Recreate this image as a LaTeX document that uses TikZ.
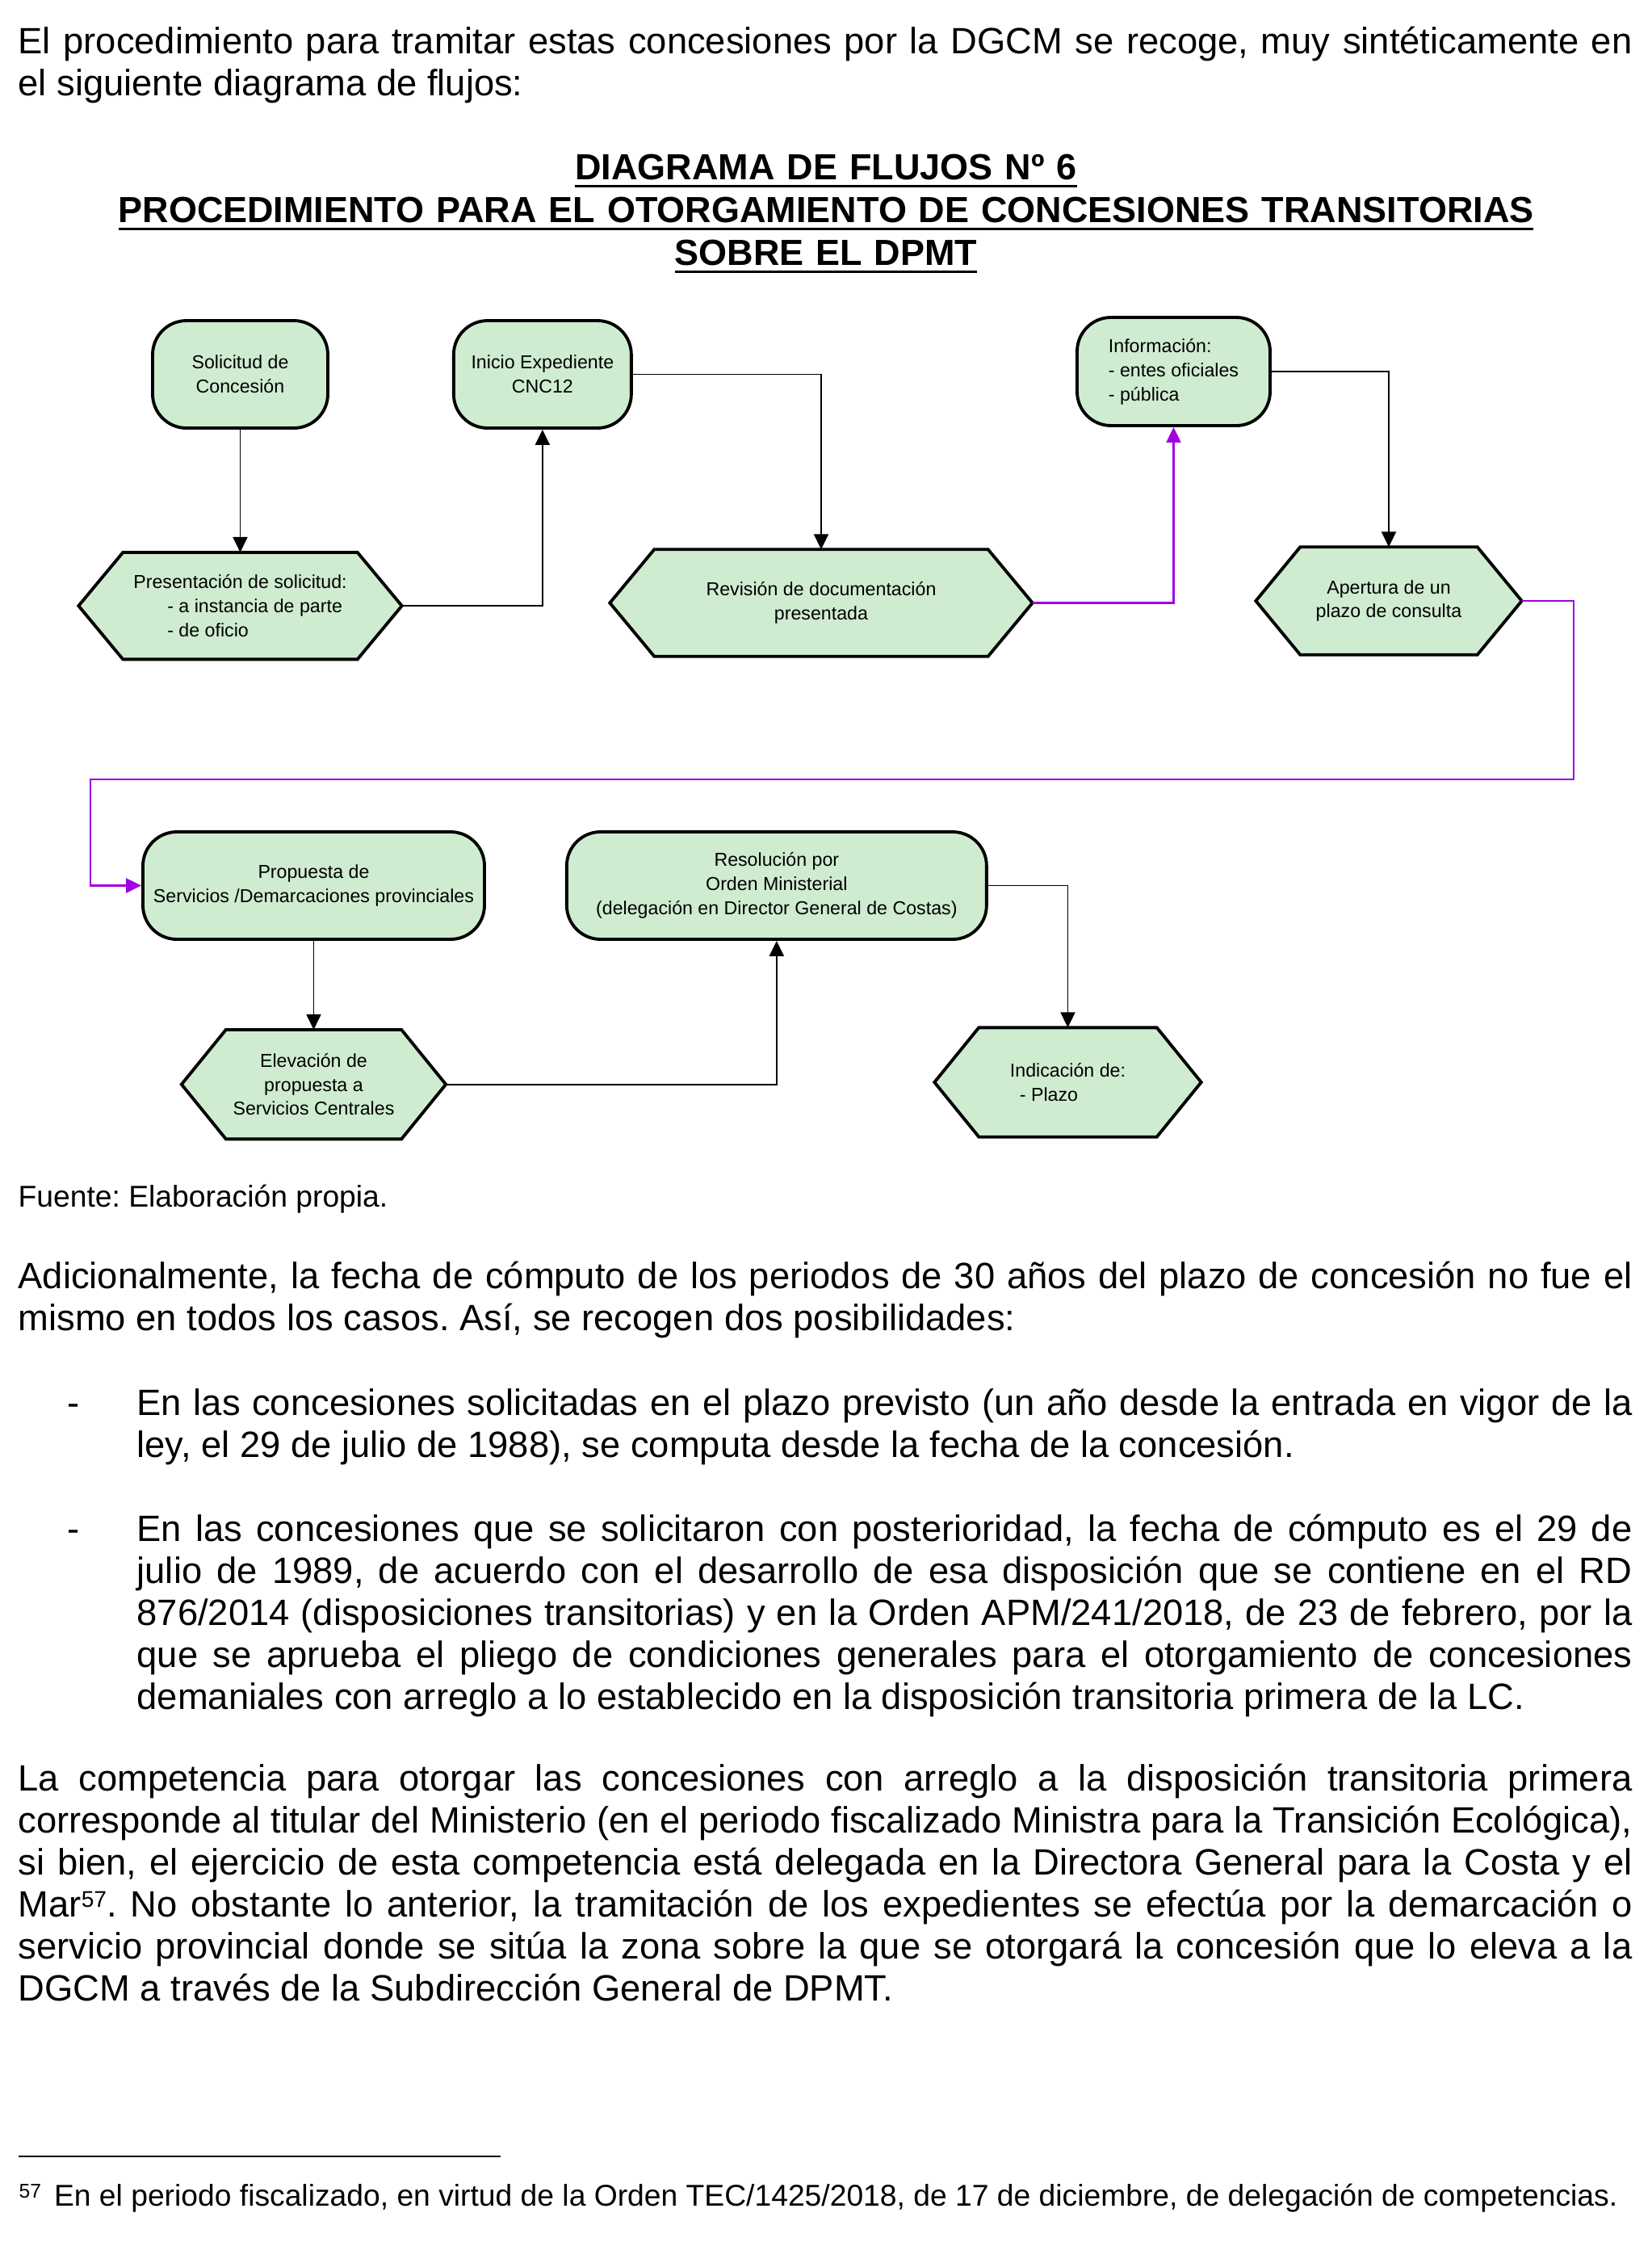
\documentclass[tikz,border=0pt]{standalone}
\usepackage{fontspec}
\setmainfont{Liberation Sans}
\usetikzlibrary{arrows.meta,positioning,calc}
\definecolor{verdeflujo}{RGB}{207,236,208}
\definecolor{moradoflujo}{RGB}{160,0,228}
\pgfdeclarelayer{fondo}
\pgfsetlayers{fondo,main}
\newcommand\tline[1]{\leavevmode\setbox0\hbox{#1}\rlap{\rule[-2.7pt]{\wd0}{0.85pt}}\box0}
\newcommand\llamada[1]{\raisebox{3.4pt}{\fontsize{8}{9}\selectfont #1}}
\tolerance=9999
\hyphenpenalty=10000
\exhyphenpenalty=10000
\frenchspacing

\begin{document}
\begin{tikzpicture}[
    caja/.style={draw, line width=1.1pt, fill=verdeflujo, rounded corners=0.42cm, minimum height=1.33cm, inner sep=1pt, align=center, font=\fontsize{6.6}{8.5}\selectfont},
    hexa/.style={minimum height=1.32cm, inner sep=1pt, align=center, font=\fontsize{6.6}{8.5}\selectfont},
    hexborde/.style={draw, line width=1.1pt, fill=verdeflujo},
    flecha/.style={-{Triangle[length=0.19cm, width=0.18cm]}, line width=0.55pt},
    flechamor/.style={flecha, draw=moradoflujo, line width=0.65pt},
    texto/.style={anchor=base west, inner sep=0pt, text width=19.99cm, align=justify, font=\fontsize{12.9}{14.8}\selectfont},
    guion/.style={anchor=base west, inner sep=0pt, font=\fontsize{12.9}{14.8}\selectfont},
    nota/.style={anchor=base west, inner sep=0pt, font=\fontsize{10.6}{12.5}\selectfont}
]
    \useasboundingbox (0,0) rectangle (20.46,-27.76);

    % texto de la pagina
    \node[texto] (intro) at (0.22,-0.66) {El procedimiento para tramitar estas concesiones por la DGCM se recoge, muy sintéticamente en\linebreak el siguiente diagrama de flujos:};
    \node[anchor=base, inner sep=0pt, text width=20cm, align=center, font=\fontsize{12.8}{15.1}\selectfont\bfseries] (titulo) at (10.23,-2.22) {\tline{DIAGRAMA DE FLUJOS Nº 6}\\\tline{PROCEDIMIENTO PARA EL OTORGAMIENTO DE CONCESIONES TRANSITORIAS}\\\tline{SOBRE EL DPMT}};

    % diagrama
    \node[caja, minimum width=2.17cm] (sol) at (2.975,-4.635) {Solicitud de\\Concesión};
    \node[caja, minimum width=2.20cm, right=1.52cm of sol] (ini) {Inicio Expediente\\CNC12};
    \node[hexa, minimum width=3.99cm, minimum height=1.31cm, align=left, below=1.52cm of sol] (pre) {Presentación de solicitud:\\\hspace{0.42cm}- a instancia de parte\\\hspace{0.42cm}- de oficio};
    \node[hexa, minimum width=5.22cm, minimum height=1.31cm] (rev) at (10.17,-7.465) {Revisión de documentación\\presentada};
    \node[caja, minimum width=2.39cm, minimum height=1.34cm, align=left] (inf) at (14.535,-4.60) {Información:\\- entes oficiales\\- pública};
    \node[hexa, minimum width=3.28cm] (ape) at (17.20,-7.44) {Apertura de un\\plazo de consulta};
    \node[caja, minimum width=4.23cm] (pro) at (3.885,-10.965) {Propuesta de\\Servicios /Demarcaciones provinciales};
    \node[caja, minimum width=5.20cm, right=0.98cm of pro] (res) {Resolución por\\Orden Ministerial\\(delegación en Director General de Costas)};
    \node[hexa, minimum width=3.26cm, minimum height=1.34cm, below=1.10cm of pro] (ele) {Elevación de\\propuesta a\\Servicios Centrales};
    \node[hexa, minimum width=3.29cm, minimum height=1.34cm, align=left] (ind) at (13.225,-13.40) {Indicación de:\\\hspace{0.12cm}- Plazo};

    \begin{pgfonlayer}{fondo}
    \fill[white] (0,0) rectangle (20.46,-27.76);
    \foreach \n in {pre,rev,ape,ele,ind}
        \filldraw[hexborde] (\n.west) -- ([xshift=0.55cm]\n.north west) -- ([xshift=-0.55cm]\n.north east) -- (\n.east) -- ([xshift=-0.55cm]\n.south east) -- ([xshift=0.55cm]\n.south west) -- cycle;
    \end{pgfonlayer}

    \coordinate (vuelta1) at (19.49,-9.65);
    \coordinate (vuelta2) at (1.12,-9.65);

    \draw[flecha] (sol) -- (pre);
    \draw[flecha] (pre.east) -| (ini);
    \draw[flecha] (ini.east) -| (rev);
    \draw[flechamor] (rev.east) -| (inf);
    \draw[flecha] (inf.east) -| (ape);
    \draw[flechamor] (ape.east) -| (vuelta1) -- (vuelta2) |- (pro);
    \draw[flecha] (pro) -- (ele);
    \draw[flecha] (ele.east) -| (res);
    \draw[flecha] (res.east) -| (ind);

    \node[nota] (fuente) at (0.22,-14.94) {Fuente: Elaboración propia.};
    \node[texto] (adic) at (0.22,-15.95) {Adicionalmente, la fecha de cómputo de los periodos de 30 años del plazo de concesión no fue el\linebreak mismo en todos los casos. Así, se recogen dos posibilidades:};
    \node[guion] (guion1) at (0.83,-17.52) {-};
    \node[texto, text width=18.52cm] (item1) at (1.69,-17.52) {En las concesiones solicitadas en el plazo previsto (un año desde la entrada en vigor de la\linebreak ley, el 29 de julio de 1988), se computa desde la fecha de la concesión.};
    \node[guion] (guion2) at (0.83,-19.08) {-};
    \node[texto, text width=18.52cm] (item2) at (1.69,-19.08) {En las concesiones que se solicitaron con posterioridad, la fecha de cómputo es el 29 de\linebreak julio de 1989, de acuerdo con el desarrollo de esa disposición que se contiene en el RD\linebreak 876/2014 (disposiciones transitorias) y en la Orden APM/241/2018, de 23 de febrero, por la\linebreak que se aprueba el pliego de condiciones generales para el otorgamiento de concesiones\linebreak demaniales con arreglo a lo establecido en la disposición transitoria primera de la LC.};
    \node[texto] (compet) at (0.22,-22.17) {La competencia para otorgar las concesiones con arreglo a la disposición transitoria primera\linebreak corresponde al titular del Ministerio (en el periodo fiscalizado Ministra para la Transición Ecológica),\linebreak si bien, el ejercicio de esta competencia está delegada en la Directora General para la Costa y el\linebreak Mar\llamada{57}. No obstante lo anterior, la tramitación de los expedientes se efectúa por la demarcación o\linebreak servicio provincial donde se sitúa la zona sobre la que se otorgará la concesión que lo eleva a la\linebreak DGCM a través de la Subdirección General de DPMT.};

    % nota al pie
    \draw[line width=0.55pt] (0.23,-26.70) -- (6.20,-26.70);
    \node[nota] (nota57) at (0.23,-27.31) {\raisebox{2.6pt}{\fontsize{7}{8}\selectfont 57}\hspace{0.16cm}En el periodo fiscalizado, en virtud de la Orden TEC/1425/2018, de 17 de diciembre, de delegación de competencias.};
\end{tikzpicture}
\end{document}
